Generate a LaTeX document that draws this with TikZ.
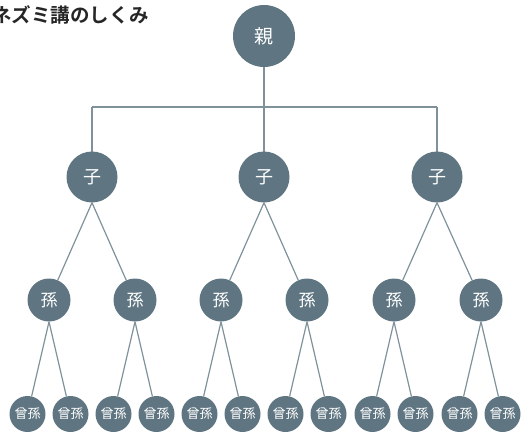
\documentclass[tikz,border=0pt]{standalone}
\usepackage{fontspec}
\newfontfamily\jp{Noto Sans CJK JP}
\newfontfamily\jpb{Noto Sans CJK JP Bold}
\definecolor{nodec}{HTML}{5F7581}
\definecolor{linec}{HTML}{7F929C}
\begin{document}
\begin{tikzpicture}[x=1pt,y=-1pt,
  lv/.style={circle,fill=nodec,text=white,inner sep=0pt,font=\jp},
  lv0/.style={lv,minimum size=62pt,font=\jp\fontsize{19}{19}\selectfont},
  lv1/.style={lv,minimum size=51pt,font=\jp\fontsize{18}{18}\selectfont},
  lv2/.style={lv,minimum size=43pt,font=\jp\fontsize{17}{17}\selectfont},
  lv3/.style={lv,minimum size=36pt,font=\jp\fontsize{13}{13}\selectfont},
  conn/.style={draw=linec,line width=1.2pt}]
\useasboundingbox (0,0) rectangle (522,434);
\node[anchor=base west,inner sep=0pt,font=\jpb\fontsize{19.5}{19.5}\selectfont,text=black!85] (title) at (-8,22) {ネズミ講のしくみ};
% root
\coordinate (bar) at (264,107);
\coordinate (barL) at (92,107);
\coordinate (barR) at (437,107);
\draw[conn] (barL) -- (barR);
\node[lv0] (r) at (264,36) {親};
\draw[conn] (r.south) -- (bar);
\foreach \i/\x in {1/92,2/264,3/437}{
  \coordinate (t\i) at (\x,107);
  \draw[conn] (t\i) -- (\x,177);
}
\node[lv1] (c1) at (92,177) {子};
\node[lv1] (c2) at (264,177) {子};
\node[lv1] (c3) at (437,177) {子};
\foreach \j/\x/\p in {1/49/1,2/135/1,3/221/2,4/307/2,5/394/3,6/481/3}{
  \node[lv2] (g\j) at (\x,300) {孫};
  \draw[conn] (c\p.south) -- (g\j);
  \node[lv3] (a\j) at (\x-21.5,414) {曾孫};
  \node[lv3] (b\j) at (\x+21.5,414) {曾孫};
  \draw[conn] (g\j.south) -- (a\j);
  \draw[conn] (g\j.south) -- (b\j);
}
\end{tikzpicture}
\end{document}
